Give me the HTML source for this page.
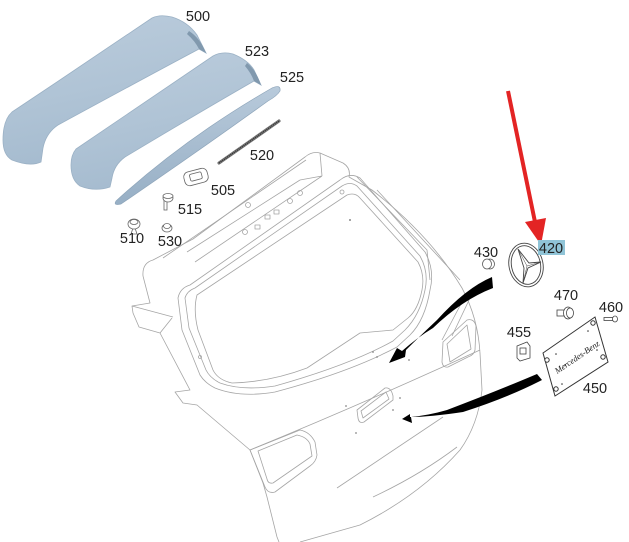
<!DOCTYPE html>
<html><head><meta charset="utf-8"><style>
html,body{margin:0;padding:0;background:#fff;}
svg{display:block;}
text{font-family:"Liberation Sans",sans-serif;font-size:14.5px;fill:#222;}
</style></head><body>
<svg width="629" height="542" viewBox="0 0 629 542" xmlns="http://www.w3.org/2000/svg">
<defs>
<linearGradient id="g1" x1="0" y1="0" x2="0.3" y2="1">
<stop offset="0" stop-color="#bccddd"/><stop offset="0.6" stop-color="#afc3d5"/><stop offset="1" stop-color="#a5bbcf"/>
</linearGradient>
<linearGradient id="g2" x1="0" y1="0" x2="0" y2="1">
<stop offset="0" stop-color="#b8cadb"/><stop offset="1" stop-color="#97afc5"/>
</linearGradient>
</defs>
<rect width="629" height="542" fill="#fff"/>

<!-- tailgate line drawing -->
<g fill="none" stroke="#a5a5a5" stroke-width="0.8" stroke-linejoin="round">
<path d="M143,276 Q142,263 153,260 L193,239 L305,157 Q312,151 320,153 L343,163 Q351,168 349,177 L372,190 Q430,235 462,288 Q478,318 480,353 L482,390 Q478,425 460,450 Q420,495 360,525 L300,542"/>
<path d="M143,276 L150,303 L132,306 L133,313 L139,327 L160,333 L190,390 L175,392 L183,403 L197,405 L250,450 L263,483 L267,497 L277,537 L279,542"/>
<path d="M132,306 L173,317 M160,333 L172,318"/>
<path d="M187,252 L300,180 M195,262 L322,176 M163,258 L306,160 M300,180 L322,176 M320,153 L322,176"/>
<path d="M197,295 L347,195 Q355,192 360,198 L418,262 Q425,275 422,290 Q418,310 408,318 L393,330 L360,333 L307,368 Q270,382 232,383 Q218,380 213,370 L198,330 Q193,310 197,295 Z"/>
<path d="M178,298 Q180,288 190,285 L340,180 Q350,172 360,178 L425,252 Q435,270 430,290 Q425,320 410,335 L397,347 Q350,372 275,392 Q240,398 215,388 Q205,383 200,375 L182,330 Z"/>
<path d="M185,298 Q187,291 195,288 L342,186 Q350,181 357,186 L420,256 Q429,272 425,290 Q420,315 405,330 L393,341 Q350,365 275,386 Q242,391 220,383 Q210,378 206,370 L189,328 Z"/>
<path d="M357,177 L427,250 L430,280 M377,190 L460,280"/>
<path d="M463,300 L442,340 M470,298 L452,336"/>
<path d="M250,450 Q360,405 480,350"/>
<path d="M337,488 L443,417"/>
<path d="M373,497 Q420,475 457,447"/>
<path d="M443,342 L467,320 Q474,318 476,326 L475,350 Q474,355 468,357 L448,367 Q443,368 442,362 Z"/>
<path d="M447,344 L467,325 L471,349 L450,362 Z"/>
<path d="M250,450 L300,430 Q310,432 315,442 L317,455 Q316,462 310,466 L275,492 Q268,494 265,487 Z"/>
<path d="M258,451 L297,435 Q307,437 310,444 L312,456 L273,483 Q268,484 267,479 Z"/>
<path d="M357,410 L385,388 Q391,387 393,396 L393,400 L364,422 Q359,424 358,418 Z"/>
<path d="M361,411 L386,392 L389,399 L363,418 Z"/>
<circle cx="248" cy="205" r="2.5"/><circle cx="290" cy="201" r="2.5"/><circle cx="300" cy="193" r="2.5"/><circle cx="245" cy="232" r="2.5"/>
<rect x="265" y="215" width="5" height="4"/><rect x="274" y="210" width="5" height="4"/><rect x="255" y="225" width="5" height="4"/>
<circle cx="342" cy="192" r="2"/><circle cx="200" cy="357" r="1.5"/>
</g>
<g fill="#888">
<circle cx="373" cy="352" r="0.9"/><circle cx="377" cy="357" r="0.9"/><circle cx="346" cy="406" r="0.9"/><circle cx="356" cy="433" r="0.9"/><circle cx="400" cy="398" r="0.9"/><circle cx="409" cy="360" r="0.9"/><circle cx="350" cy="220" r="1"/><circle cx="393" cy="410" r="0.9"/>
</g>

<!-- spoiler 500 -->
<path d="M12,112 C60,80 120,40 152,18 Q160,14 172,17 Q188,22 197,35 L206,53 L199,49 Q150,75 58,125 Q46,133 43,148 L41,162 Q30,167 12,160 Q3,155 3,140 Q3,120 12,112 Z" fill="url(#g1)" stroke="#9bb1c5" stroke-width="0.8"/>
<path d="M189,31 Q200,38 206,53 L199,49 Q195,41 187,34 Z" fill="#8199ae"/>
<!-- spoiler 523 -->
<path d="M76,149 L213,56 Q222,51 233,54 Q248,60 254,70 L261,85 L254,81 Q200,112 125,157 Q114,165 112,178 L110,187 Q95,192 80,186 Q71,180 71,165 Q71,155 76,149 Z" fill="url(#g1)" stroke="#9bb1c5" stroke-width="0.8"/>
<path d="M247,63 Q256,70 261,85 L254,81 Q251,73 245,66 Z" fill="#8199ae"/>
<!-- strip 525 -->
<path d="M116,201 Q185,138 272,88 Q281,84 280,91 Q277,96 268,101 Q200,150 121,204 Q113,206 116,201 Z" fill="url(#g2)" stroke="#8ea5ba" stroke-width="0.7"/>
<!-- 520 -->
<line x1="219" y1="163" x2="279" y2="121" stroke="#777" stroke-width="3.2" stroke-linecap="round"/>
<line x1="219" y1="163" x2="279" y2="121" stroke="#333" stroke-width="1.6" stroke-dasharray="1 1"/>

<!-- small parts -->
<g fill="#fff" stroke="#666" stroke-width="0.8">
<g transform="translate(196,177) rotate(-15)"><rect x="-12" y="-7" width="24" height="14" rx="5"/><rect x="-6" y="-4" width="12" height="7" rx="1.5"/></g>
<rect x="164" y="200" width="3" height="10"/><ellipse cx="168" cy="198" rx="5" ry="4"/><ellipse cx="168" cy="196" rx="5" ry="2.5"/>
<path d="M133,228 L131,234 L137,234 L135,228 Z"/><ellipse cx="134" cy="224" rx="6" ry="5"/><ellipse cx="134" cy="222" rx="4" ry="2.5"/>
<ellipse cx="167" cy="228" rx="5" ry="4"/><ellipse cx="167" cy="226" rx="3.5" ry="2.5"/>
</g>

<!-- 430 -->
<g fill="#fff" stroke="#555" stroke-width="0.8">
<ellipse cx="490" cy="264" rx="4.5" ry="5"/><ellipse cx="487" cy="264" rx="4.5" ry="5"/>
</g>

<!-- star 420 -->
<g fill="none" stroke="#444" stroke-width="0.9">
<ellipse cx="526" cy="265" rx="17" ry="22" transform="rotate(-12 526 265)"/>
<ellipse cx="526" cy="265" rx="14.5" ry="19.5" transform="rotate(-12 526 265)"/>
<path d="M518,249 L529,263 L541,262 L528,268 L523,283 L524,268 Z" fill="#fff"/>
<path d="M518,249 L527,266 M541,262 L527,266 M523,283 L527,266" stroke-width="0.5"/>
</g>

<!-- 470 bolt, 460 screw, 455 clip -->
<g fill="#fff" stroke="#444" stroke-width="0.8">
<rect x="557" y="310" width="8" height="6"/><ellipse cx="568" cy="313" rx="4.5" ry="6"/><ellipse cx="570" cy="313" rx="3.5" ry="5"/>
<rect x="604" y="317.5" width="9" height="3"/><ellipse cx="615" cy="319" rx="2.5" ry="3"/>
<path d="M517,346 L527,342 L530,346 L530,358 L520,361 L517,358 Z"/><rect x="520" y="348" width="6" height="6"/>
</g>

<!-- plate 450 -->
<g stroke="#333" stroke-width="1" fill="#fff">
<path d="M543,353 L595,317 L608,362 L555,396 Z"/>
<circle cx="547" cy="360" r="2.2"/><circle cx="593" cy="323" r="2.2"/><circle cx="603" cy="357" r="2.2"/><circle cx="556" cy="389" r="2.2"/>
</g>
<g fill="#333"><circle cx="556" cy="354" r="0.8"/><circle cx="588" cy="331" r="0.8"/><circle cx="597" cy="350" r="0.8"/><circle cx="562" cy="384" r="0.8"/><circle cx="565" cy="365" r="0.8"/></g>
<text x="577" y="360" text-anchor="middle" transform="rotate(-34 577 357)" style="font-family:'Liberation Serif',serif;font-style:italic;font-size:8.5px;fill:#222">Mercedes-Benz</text>

<!-- black arrows -->
<path d="M492,277 Q466,288 437,320 Q420,336 406,350 L405,357 L389,363 L397,348 L402,351 Q418,337 433,328 Q462,300 493,288 Z" fill="#000"/>
<path d="M537,374 Q497,391 447,410 Q430,415 411,417 L412,423 L402,419 L410,414 L410,417 Q430,417 463,412 Q507,398 542,380 Z" fill="#000"/>

<!-- red arrow -->
<line x1="508" y1="91" x2="535" y2="222" stroke="#e32424" stroke-width="4"/>
<path d="M525,222 L546,218 L541,245 Z" fill="#e32424"/>

<!-- labels -->
<rect x="538" y="240" width="27" height="15" fill="#90c4d7"/>
<text x="198" y="21" text-anchor="middle">500</text>
<text x="257" y="56" text-anchor="middle">523</text>
<text x="292" y="82" text-anchor="middle">525</text>
<text x="262" y="160" text-anchor="middle">520</text>
<text x="223" y="195" text-anchor="middle">505</text>
<text x="190" y="214" text-anchor="middle">515</text>
<text x="132" y="243" text-anchor="middle">510</text>
<text x="170" y="246" text-anchor="middle">530</text>
<text x="486" y="257" text-anchor="middle">430</text>
<text x="551" y="253" text-anchor="middle">420</text>
<text x="566" y="300" text-anchor="middle">470</text>
<text x="611" y="312" text-anchor="middle">460</text>
<text x="519" y="337" text-anchor="middle">455</text>
<text x="595" y="393" text-anchor="middle">450</text>
</svg>
</body></html>
